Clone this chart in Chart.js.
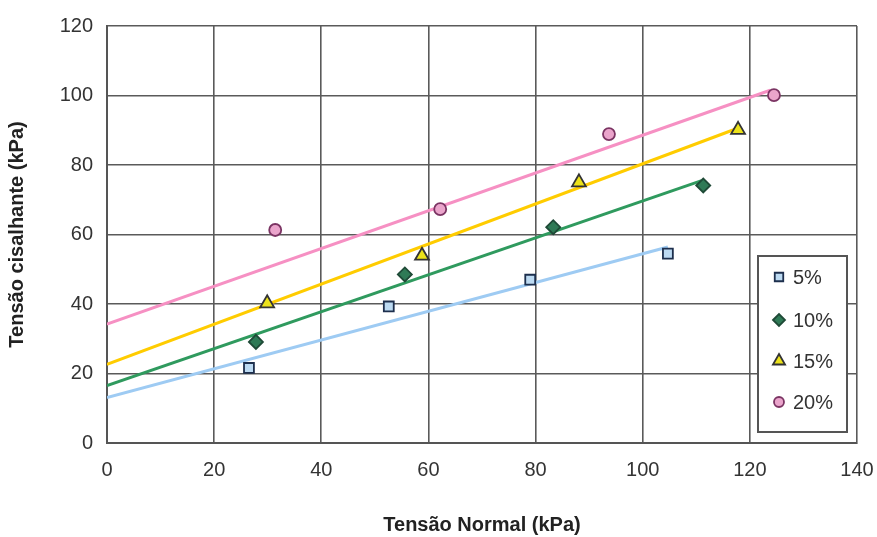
<!DOCTYPE html>
<html>
<head>
<meta charset="utf-8">
<script src="https://cdn.jsdelivr.net/npm/chart.js@4"></script>
<style>
  html, body { margin: 0; padding: 0; background: #fff; }
  #wrap { width: 877px; height: 537px; }
</style>
</head>
<body>
<div id="wrap"><canvas id="chart" width="877" height="537"></canvas></div>
<script>
// series labels
const seriesLabels = ['5%', '10%', '15%', '20%']

// measured points: normal stress (kPa) and shear stress (kPa)
const normal5 = [26.5, 52.6, 79.0, 104.7]
const shear5 = [21.6, 39.3, 47.0, 54.5]
const normal10 = [27.8, 55.6, 83.3, 111.3]
const shear10 = [29.1, 48.5, 62.1, 74.1]
const normal15 = [29.9, 58.8, 88.1, 117.8]
const shear15 = [40.2, 53.9, 75.0, 90.1]
const normal20 = [31.4, 62.2, 93.7, 124.5]
const shear20 = [61.3, 67.3, 88.9, 100.1]

// fitted envelopes: value at 0 kPa and at the end of the line
const fitStart = [13.1, 16.5, 22.6, 34.2]
const fitEndX = [104.7, 111.0, 117.6, 123.8]
const fitEndY = [56.4, 75.5, 90.5, 101.5]

const xTicks = [0, 20, 40, 60, 80, 100, 120, 140]
const yTicks = [0, 20, 40, 60, 80, 100, 120]

const lineColors = ['#9ecbf3', '#2f9a5e', '#ffcc00', '#f690c3']
const fillColors = ['#bcdaf2', '#2f7a56', '#ece21a', '#eaa4cb']
const edgeColors = ['#1d2f4d', '#1f4a37', '#333333', '#7b3463']
const markers = ['rect', 'rectRot', 'triangle', 'circle']
const markerSize = [7, 7, 8, 6]

const pointSets = [[normal5, shear5], [normal10, shear10], [normal15, shear15], [normal20, shear20]]

const datasets = []
for (let i = 0; i < seriesLabels.length; i++) {
    datasets.push({
        label: seriesLabels[i] + ' fit',
        type: 'line',
        data: [{x: 0, y: fitStart[i]}, {x: fitEndX[i], y: fitEndY[i]}],
        borderColor: lineColors[i],
        borderWidth: 3,
        pointRadius: 0,
        fill: false,
        order: 2
    })
}
for (let i = 0; i < seriesLabels.length; i++) {
    const xs = pointSets[i][0], ys = pointSets[i][1]
    datasets.push({
        label: seriesLabels[i],
        data: xs.map((x, k) => ({x: x, y: ys[k]})),
        pointStyle: markers[i],
        pointRadius: markerSize[i],
        backgroundColor: fillColors[i],
        borderColor: edgeColors[i],
        borderWidth: 1.8,
        order: 1
    })
}

// legend box drawn inside the plot, like the original
const boxLegend = {
    id: 'boxLegend',
    afterDraw(chart) {
        const ctx = chart.ctx
        const x0 = 758, y0 = 256, w = 89, h = 176
        ctx.save()
        ctx.fillStyle = '#fff'
        ctx.fillRect(x0, y0, w, h)
        ctx.strokeStyle = '#555'
        ctx.lineWidth = 2
        ctx.strokeRect(x0, y0, w, h)
        ctx.font = '20px "Liberation Sans", Arial, sans-serif'
        ctx.textBaseline = 'middle'
        const rows = [277, 320, 361, 402]
        for (let i = 0; i < seriesLabels.length; i++) {
            const opts = {
                pointStyle: markers[i],
                rotation: 0,
                radius: markerSize[i] - 1,
                borderWidth: 1.8
            }
            ctx.fillStyle = fillColors[i]
            ctx.strokeStyle = edgeColors[i]
            ctx.lineWidth = 1.8
            Chart.helpers.drawPoint(ctx, opts, 779, rows[i])
            ctx.fillStyle = '#333'
            ctx.fillText(seriesLabels[i], 793, rows[i] + 1)
        }
        ctx.restore()
    }
}

const tickFont = {family: '"Liberation Sans", Arial, sans-serif', size: 20}
const titleFont = {family: '"Liberation Sans", Arial, sans-serif', size: 20, weight: 'bold'}

new Chart(document.getElementById('chart').getContext('2d'), {
    type: 'scatter',
    data: {datasets: datasets},
    options: {
        responsive: false,
        animation: false,
        layout: {padding: {top: 22, right: 20, left: 0, bottom: 0}},
        plugins: {
            legend: {display: false},
            tooltip: {enabled: false}
        },
        scales: {
            x: {
                type: 'linear',
                min: 0,
                max: 140,
                afterBuildTicks: s => { s.ticks = xTicks.map(v => ({value: v})) },
                afterFit: s => { s.height = 94; s.paddingRight = 0; s.paddingLeft = 0 },
                grid: {color: '#5a5a5a', lineWidth: 1.6, drawTicks: false},
                border: {color: '#555', width: 2},
                ticks: {color: '#333', font: tickFont, padding: 15, maxRotation: 0},
                title: {display: true, text: 'Tensão Normal (kPa)', color: '#222', font: titleFont, padding: {top: 4, bottom: 0}}
            },
            y: {
                type: 'linear',
                min: 0,
                max: 120,
                afterBuildTicks: s => { s.ticks = yTicks.map(v => ({value: v})) },
                afterFit: s => { s.width = 107 },
                grid: {color: '#5a5a5a', lineWidth: 1.6, drawTicks: false},
                border: {color: '#555', width: 2},
                ticks: {color: '#333', font: tickFont, padding: 14},
                title: {display: true, text: 'Tensão cisalhante (kPa)', color: '#222', font: titleFont, padding: {top: 5, bottom: 0}}
            }
        }
    },
    plugins: [boxLegend]
})
</script>
</body>
</html>
